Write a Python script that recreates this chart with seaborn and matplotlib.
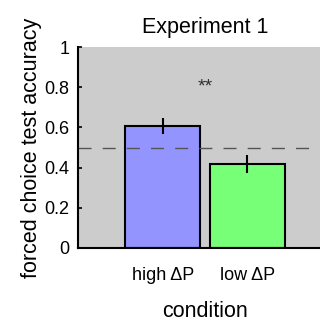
import matplotlib
matplotlib.use("Agg")
import matplotlib.pyplot as plt
import seaborn as sns
import pandas as pd

conditions = ["high \u0394P", "low \u0394P"]
accuracy = [0.607, 0.418]
sem = [0.042, 0.044]
bar_colors = ["#9494FF", "#77FF77"]
chance = 0.5
yticks = [0, 0.2, 0.4, 0.6, 0.8, 1]
ytick_labels = ["0", "0.2", "0.4", "0.6", "0.8", "1"]

sns.set_theme(style="white")
plt.rcParams["font.family"] = ["Liberation Sans", "DejaVu Sans"]
plt.rcParams["text.color"] = "black"
plt.rcParams["axes.labelcolor"] = "black"
plt.rcParams["xtick.color"] = "black"
plt.rcParams["ytick.color"] = "black"

df = pd.DataFrame({"condition": conditions, "acc": accuracy})

fig = plt.figure(figsize=(3.2, 3.21), dpi=100)
ax = fig.add_axes([78/320, (321-248)/321, (332-78)/320, (248-47)/321])
ax.set_facecolor("#CCCCCC")

sns.barplot(data=df, x="condition", y="acc", hue="condition", palette=bar_colors,
            width=0.89, edgecolor="black", linewidth=1.5, ax=ax, legend=False,
            errorbar=None, saturation=1)
ax.errorbar(range(len(conditions)), accuracy, yerr=sem, fmt="none",
            ecolor="black", elinewidth=1.5, capsize=0)
ax.axhline(chance, color="#555555", linestyle=(0, (9.4, 8)), linewidth=1)
ax.text(0.5, 0.80, "**", ha="center", va="center", fontsize=14, color="#333333")

ax.set_xlim(-1, 2)
ax.set_ylim(0, 1)
ax.set_yticks(yticks)
ax.set_yticklabels(ytick_labels, fontsize=13)
ax.tick_params(axis="y", direction="in", length=3, width=1.2, left=True, pad=6)
ax.tick_params(axis="x", length=0, labelsize=13, pad=14)
ax.set_xlabel("condition", fontsize=15.5, labelpad=12)
ax.set_ylabel("forced choice test accuracy", fontsize=15.5, labelpad=2)
ax.set_title("Experiment 1", fontsize=15.5, pad=10)

for side in ["top", "right"]:
    ax.spines[side].set_visible(False)
for side in ["left", "bottom"]:
    ax.spines[side].set_visible(True)
    ax.spines[side].set_color("black")
    ax.spines[side].set_linewidth(1.5)

fig.savefig("out.png", dpi=100)
